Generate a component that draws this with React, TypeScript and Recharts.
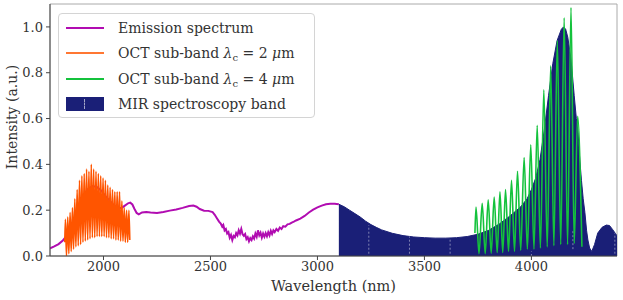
import React from 'react';
import { ComposedChart, Line, Area, XAxis, YAxis, ReferenceLine, ReferenceArea, Legend } from 'recharts';

const FONT = 'DejaVu Serif';
const PURPLE = '#b10cb1';
const ORANGE = '#ff5500';
const GREEN = '#14c23c';
const NAVY = '#1a1f77';

const xTicks = [2000, 2500, 3000, 3500, 4000];
const yTicks = [0, 0.2, 0.4, 0.6, 0.8, 1.0];

// Emission spectrum (nm, a.u.) up to the start of the MIR band
const emissionSpectrum: [number, number][] = [
  [1750, 0.033], [1770, 0.042], [1790, 0.052], [1810, 0.068], [1830, 0.09], [1850, 0.13],
  [1870, 0.18], [1890, 0.23], [1910, 0.27], [1930, 0.295], [1950, 0.305], [1970, 0.3],
  [1990, 0.285], [2010, 0.26], [2030, 0.24], [2050, 0.22], [2070, 0.21], [2085, 0.21],
  [2100, 0.22], [2115, 0.23], [2125, 0.233], [2135, 0.225], [2145, 0.205], [2155, 0.188],
  [2165, 0.182], [2180, 0.19], [2200, 0.192], [2220, 0.19], [2250, 0.188], [2280, 0.192],
  [2310, 0.198], [2340, 0.203], [2370, 0.21], [2400, 0.218], [2420, 0.22], [2435, 0.215],
  [2450, 0.205], [2470, 0.198], [2490, 0.197], [2510, 0.192], [2520, 0.18], [2530, 0.165],
  [2540, 0.15], [2548, 0.142], [2555, 0.128], [2560, 0.135], [2566, 0.112], [2572, 0.118],
  [2578, 0.098], [2584, 0.104], [2590, 0.08], [2596, 0.092], [2602, 0.07], [2608, 0.088],
  [2614, 0.082], [2620, 0.1], [2626, 0.09], [2632, 0.112], [2638, 0.098], [2644, 0.118],
  [2650, 0.095], [2656, 0.088], [2662, 0.096], [2668, 0.074], [2674, 0.082], [2680, 0.064],
  [2686, 0.078], [2692, 0.07], [2698, 0.086], [2704, 0.076], [2710, 0.098], [2716, 0.084],
  [2722, 0.112], [2728, 0.09], [2734, 0.102], [2740, 0.08], [2746, 0.098], [2752, 0.084],
  [2758, 0.1], [2764, 0.086], [2770, 0.104], [2776, 0.09], [2782, 0.11], [2788, 0.096],
  [2794, 0.112], [2800, 0.104], [2808, 0.118], [2816, 0.11], [2824, 0.124], [2832, 0.118],
  [2840, 0.13], [2850, 0.128], [2860, 0.138], [2870, 0.14], [2880, 0.146], [2890, 0.15],
  [2900, 0.155], [2920, 0.163], [2940, 0.175], [2960, 0.19], [2980, 0.202], [3000, 0.212],
  [3020, 0.22], [3040, 0.226], [3060, 0.228], [3080, 0.228], [3100, 0.226],
];

// MIR spectroscopy band (filled region of the spectrum)
const mirBand: [number, number][] = [
  [3100, 0.226], [3125, 0.215], [3150, 0.2], [3175, 0.185], [3200, 0.17], [3225, 0.152],
  [3250, 0.137], [3275, 0.125], [3300, 0.114], [3350, 0.099], [3400, 0.089], [3450, 0.083],
  [3500, 0.08], [3550, 0.078], [3600, 0.078], [3650, 0.08], [3700, 0.085], [3750, 0.095],
  [3800, 0.112], [3850, 0.14], [3900, 0.175], [3950, 0.215], [3980, 0.25], [4000, 0.29],
  [4020, 0.34], [4040, 0.42], [4060, 0.55], [4080, 0.7], [4100, 0.84], [4120, 0.94],
  [4140, 0.99], [4150, 1.0], [4160, 0.99], [4170, 0.955], [4185, 0.86], [4200, 0.7],
  [4210, 0.6], [4218, 0.54], [4226, 0.42], [4234, 0.33], [4242, 0.25], [4250, 0.19],
  [4258, 0.11], [4264, 0.07], [4272, 0.035], [4282, 0.02], [4295, 0.05], [4310, 0.1],
  [4330, 0.125], [4350, 0.135], [4365, 0.133], [4380, 0.115], [4395, 0.095], [4400, 0.09],
];

// OCT sub-band centred at 2 um (interference fringes: peaks and troughs)
const octBand2um: [number, number][] = [
  [1819, 0.06], [1822, 0.16], [1827, 0.0], [1833, 0.17], [1838, 0.01], [1844, 0.19],
  [1849, 0.02], [1855, 0.21], [1860, 0.03], [1866, 0.25], [1871, 0.04], [1877, 0.29],
  [1882, 0.045], [1888, 0.33], [1893, 0.05], [1899, 0.35], [1904, 0.06], [1910, 0.36],
  [1915, 0.065], [1921, 0.38], [1926, 0.07], [1932, 0.37], [1937, 0.075], [1943, 0.4],
  [1948, 0.08], [1954, 0.38], [1959, 0.08], [1965, 0.37], [1970, 0.085], [1976, 0.36],
  [1981, 0.085], [1987, 0.35], [1992, 0.085], [1998, 0.34], [2003, 0.085], [2009, 0.33],
  [2014, 0.08], [2020, 0.31], [2025, 0.08], [2031, 0.3], [2036, 0.075], [2042, 0.29],
  [2047, 0.075], [2053, 0.28], [2058, 0.07], [2064, 0.28], [2069, 0.07], [2075, 0.28],
  [2080, 0.065], [2086, 0.24], [2091, 0.065], [2097, 0.21], [2102, 0.06], [2108, 0.2],
  [2113, 0.06], [2119, 0.2], [2123, 0.07],
];

// OCT sub-band centred at 4 um
const octBand4um: [number, number][] = [
  [3736, 0.1], [3741, 0.214], [3755, 0.01], [3770, 0.23], [3784, 0.01], [3798, 0.245],
  [3812, 0.012], [3826, 0.257], [3840, 0.015], [3853, 0.28], [3866, 0.015], [3879, 0.29],
  [3893, 0.02], [3907, 0.33], [3921, 0.02], [3935, 0.37], [3950, 0.025], [3966, 0.43],
  [3981, 0.03], [3997, 0.485], [4012, 0.03], [4027, 0.57], [4042, 0.035], [4058, 0.725],
  [4074, 0.04], [4090, 0.83], [4105, 0.045], [4121, 0.94], [4137, 0.05], [4153, 1.04],
  [4169, 0.05], [4185, 1.085], [4200, 0.055], [4216, 0.61], [4236, 0.04],
];

// faint white dashed hatch marks inside the MIR band: [x, yFrom, yTo]
const hatchMarks: [number, number, number][] = [
  [3240, 0.01, 0.135], [3430, 0.01, 0.085], [3620, 0.01, 0.075], [4000, 0.0, 0.02],
  [4194, 0.03, 0.11], [4390, 0.01, 0.1],
];

const toPts = (a: [number, number][]) => a.map(([x, y]) => ({ x, y }));

const legendEntries = [
  { key: 'em', kind: 'line', color: PURPLE },
  { key: 'o2', kind: 'line', color: ORANGE },
  { key: 'o4', kind: 'line', color: GREEN },
  { key: 'mir', kind: 'patch', color: NAVY },
];

const legendLabel = (key: string) => {
  if (key === 'em') return <span>Emission spectrum</span>;
  if (key === 'mir') return <span>MIR spectroscopy band</span>;
  const n = key === 'o2' ? '2' : '4';
  return (
    <span>
      OCT sub-band <i>λ</i>
      <span style={{ fontSize: 10, position: 'relative', top: 3 }}>c</span> = {n}{' '}
      <i>μ</i>m
    </span>
  );
};

const renderLegend = () => (
  <div
    style={{
      position: 'relative',
      width: 257,
      height: 105,
      boxSizing: 'border-box',
      border: '1px solid #d4d4d4',
      borderRadius: 4,
      background: 'rgba(255,255,255,0.85)',
      fontFamily: FONT,
      fontSize: 14,
      color: '#333',
    }}
  >
    {legendEntries.map((e, i) => {
      const cy = 14 + i * 25.4;
      return (
        <div key={e.key} style={{ position: 'absolute', left: 0, top: cy - 12, height: 24, width: 257 }}>
          {e.kind === 'line' ? (
            <div style={{ position: 'absolute', left: 7, top: 11, width: 38, height: 2, background: e.color, opacity: e.key === 'o2' ? 0.8 : 1 }} />
          ) : (
            <div style={{ position: 'absolute', left: 7, top: 5, width: 38, height: 14, background: e.color }}>
              <div style={{ position: 'absolute', left: 18, top: 2, width: 0, height: 10, borderLeft: '1px dashed rgba(255,255,255,0.6)' }} />
            </div>
          )}
          <div style={{ position: 'absolute', left: 59, top: 0, lineHeight: '24px', whiteSpace: 'nowrap' }}>{legendLabel(e.key)}</div>
        </div>
      );
    })}
  </div>
);

export default function App() {
  return (
    <div style={{ position: 'absolute', left: 0, top: 0, width: 623, height: 300, background: '#fff' }}>
      <ComposedChart width={623} height={300} margin={{ top: 4, right: 6, bottom: 0, left: 0 }}>
        <XAxis
          dataKey="x"
          type="number"
          domain={[1750, 4400]}
          ticks={xTicks}
          allowDataOverflow
          height={44}
          axisLine={{ stroke: '#444' }}
          tickLine={{ stroke: '#444' }}
          tickSize={4}
          tickMargin={2}
          tick={{ fill: '#333', fontSize: 13, fontFamily: FONT }}
          label={{ value: 'Wavelength (nm)', position: 'center', dy: 8, fontFamily: FONT, fontSize: 14.5, fill: '#333' }}
        />
        <YAxis
          type="number"
          domain={[0, 1.1]}
          ticks={yTicks}
          allowDataOverflow
          width={50}
          axisLine={{ stroke: '#444' }}
          tickLine={{ stroke: '#444' }}
          tickSize={4}
          tickMargin={3}
          tick={{ fill: '#333', fontSize: 13, fontFamily: FONT }}
          tickFormatter={(v: number) => v.toFixed(1)}
          label={{ value: 'Intensity (a.u.)', angle: -90, position: 'center', dx: -13, dy: -13, fontFamily: FONT, fontSize: 14, fill: '#333', textAnchor: 'middle' }}
        />
        <ReferenceArea x1={1750} x2={4400} y1={0} y2={1.1} fill="none" stroke="#aaaaaa" strokeWidth={1} />
        <Area data={toPts(mirBand)} dataKey="y" type="linear" stroke={NAVY} strokeWidth={1} fill={NAVY} fillOpacity={1} baseValue={0} isAnimationActive={false} dot={false} activeDot={false} />
        {hatchMarks.map(([x, y0, y1]) => (
          <ReferenceLine key={x} segment={[{ x, y: y0 }, { x, y: y1 }]} stroke="#ffffff" strokeOpacity={0.45} strokeDasharray="2 2" strokeWidth={1} />
        ))}
        <Line data={toPts(emissionSpectrum)} dataKey="y" type="linear" stroke={PURPLE} strokeWidth={2} dot={false} activeDot={false} isAnimationActive={false} />
        <Line data={toPts(octBand2um)} dataKey="y" type="monotone" stroke={ORANGE} strokeWidth={1.6} dot={false} activeDot={false} isAnimationActive={false} />
        <Line data={toPts(octBand4um)} dataKey="y" type="monotone" stroke={GREEN} strokeWidth={1.6} dot={false} activeDot={false} isAnimationActive={false} />
        <Legend layout="vertical" verticalAlign="middle" align="center" wrapperStyle={{ left: 58, top: 13, width: 257, height: 105 }} content={renderLegend} />
      </ComposedChart>
    </div>
  );
}
